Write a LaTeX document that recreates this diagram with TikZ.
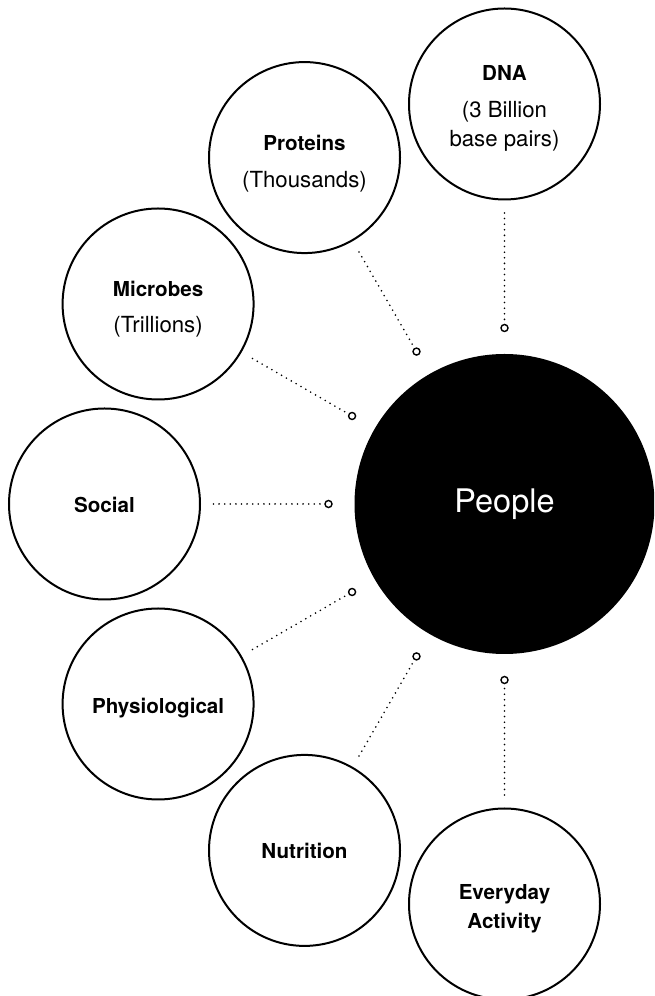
\documentclass[tikz,border=0pt]{standalone}
\usepackage{fontspec}
\setmainfont{TeX Gyre Heros}
\usetikzlibrary{calc}
\begin{document}
\begin{tikzpicture}[x=1pt,y=1pt,
  outer/.style={circle,draw=black,line width=2pt,minimum size=191pt,inner sep=0pt},
  core/.style={circle,fill=black,minimum size=300pt,inner sep=0pt},
  port/.style={circle,draw=black,line width=1.4pt,fill=white,minimum size=7pt,inner sep=0pt},
  link/.style={line width=1.8pt,dash pattern=on 0pt off 5.6pt,line cap=round},
  title/.style={font=\fontsize{20.6}{24}\selectfont\bfseries,anchor=base,inner sep=0pt},
  sub/.style={font=\fontsize{22.2}{26}\selectfont,anchor=base,inner sep=0pt},
]
\useasboundingbox (0,0) rectangle (654,996);
\clip (0,0) rectangle (654,996);
\coordinate (C) at (504.5,492);
\node[core] (people) at (C) {};
\node[font=\fontsize{32.5}{36}\selectfont,text=white,anchor=base,inner sep=0pt] (peopletxt) at ([yshift=-9pt]C) {People};

\foreach \a/\n in {90/dna,120/prot,150/micr,180/soc,210/phys,240/nutr,270/act} {
  \node[outer] (\n) at ($(C)+(\a:400)$) {};
  \node[port] (\n-p) at ($(C)+(\a:176)$) {};
  \coordinate (\n-e) at ($(C)+(\a:291)$);
  \draw[link] (\n-e) -- (\n-p);
}

\node[title] (dna-t) at ([yshift=23pt]dna.center) {DNA};
\node[sub] (dna-s1) at ([yshift=-14pt]dna.center) {(3 Billion};
\node[sub] (dna-s2) at ([yshift=-43pt]dna.center) {base pairs)};

\node[title] (prot-t) at ([yshift=7pt]prot.center) {Proteins};
\node[sub] (prot-s) at ([yshift=-30pt]prot.center) {(Thousands)};

\node[title] (micr-t) at ([yshift=7pt]micr.center) {Microbes};
\node[sub] (micr-s) at ([yshift=-29pt]micr.center) {(Trillions)};

\node[title] (soc-t) at ([yshift=-9pt]soc.center) {Social};
\node[title] (phys-t) at ([yshift=-10pt]phys.center) {Physiological};
\node[title] (nutr-t) at ([yshift=-8pt]nutr.center) {Nutrition};

\node[title] (act-t1) at ([yshift=4pt]act.center) {Everyday};
\node[title] (act-t2) at ([yshift=-24.7pt]act.center) {Activity};
\end{tikzpicture}
\end{document}
